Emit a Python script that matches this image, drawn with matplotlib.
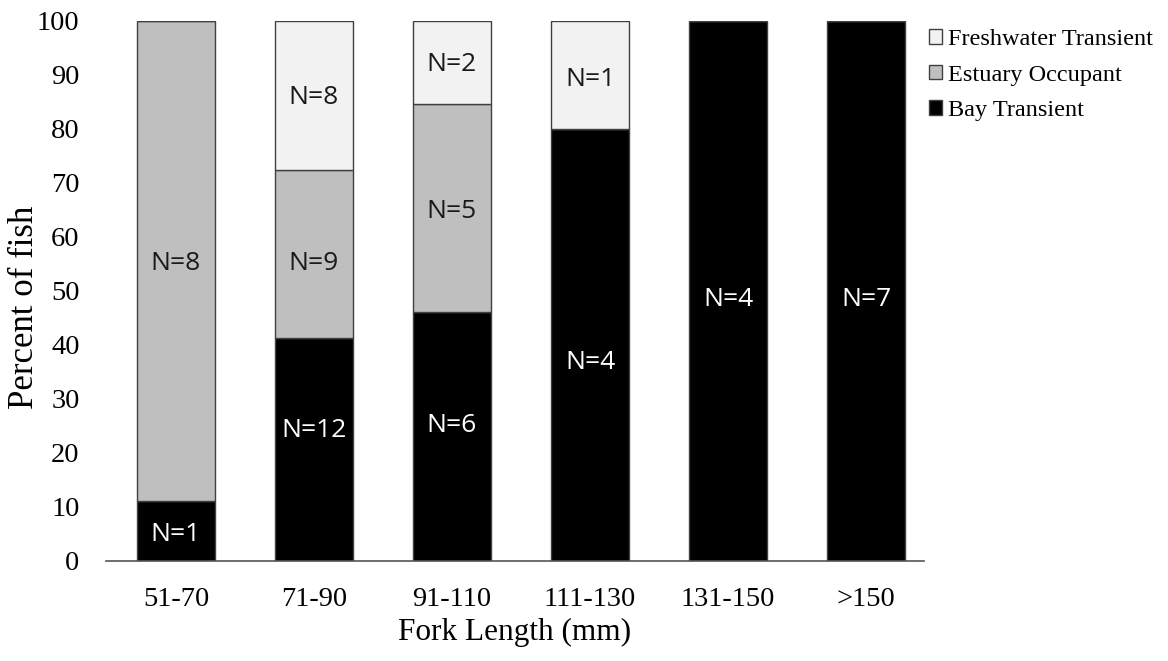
import matplotlib
matplotlib.use("Agg")
import matplotlib.pyplot as plt
import numpy as np

categories = ["51-70", "71-90", "91-110", "111-130", "131-150", ">150"]
bay_n = [1, 12, 6, 4, 4, 7]
estuary_n = [8, 9, 5, 0, 0, 0]
fresh_n = [0, 8, 2, 1, 0, 0]
series_names = ["Bay Transient", "Estuary Occupant", "Freshwater Transient"]
colors = ["#000000", "#bfbfbf", "#f2f2f2"]
text_colors = ["white", "#1a1a1a", "#1a1a1a"]

# label heights (percent) as placed in the original chart
bay_label_pos = [5.4, 24.7, 25.6, 37.4, 48.9, 48.9]
estuary_label_pos = [55.7, 55.7, 65.2, None, None, None]
fresh_label_pos = [None, 86.3, 92.5, 89.7, None, None]

counts = np.array([bay_n, estuary_n, fresh_n], dtype=float)
totals = counts.sum(axis=0)
pct = counts / totals * 100
label_pos = [bay_label_pos, estuary_label_pos, fresh_label_pos]

fig = plt.figure(figsize=(11.68, 6.61), dpi=100)
ax = fig.add_axes([106/1168, 100/661, (924-106)/1168, (640-100)/661])

x = np.arange(len(categories))
bottom = np.zeros(len(categories))
handles = []
for i in range(3):
    bars = ax.bar(x, pct[i], width=0.57, bottom=bottom, color=colors[i],
                  edgecolor="#404040", linewidth=1.0, label=series_names[i])
    handles.append(bars)
    for j in range(len(categories)):
        if counts[i, j] > 0:
            ypos = label_pos[i][j]
            if ypos is None:
                ypos = bottom[j] + pct[i, j] / 2
            ax.text(x[j], ypos, f"N={int(counts[i, j])}",
                    ha="center", va="center_baseline", color=text_colors[i],
                    fontsize=19, family="Open Sans")
    bottom += pct[i]

ax.set_xlim(-0.507, 5.42)
ax.set_ylim(0, 100)
ax.set_yticks(range(0, 101, 10))
ax.set_xticks(x)
ax.set_xticklabels(categories)
for s in ["top", "right", "left"]:
    ax.spines[s].set_visible(False)
ax.spines["bottom"].set_color("#555555")
ax.spines["bottom"].set_linewidth(1.2)
ax.tick_params(axis="both", length=0, labelsize=20.5)
ax.tick_params(axis="y", pad=19)
ax.tick_params(axis="x", pad=19)
for lab in ax.get_xticklabels() + ax.get_yticklabels():
    lab.set_family("Liberation Serif")

fig.text(25/1168, 1 - 307/661, "Percent of fish", family="Liberation Serif",
         fontsize=25, rotation=90, ha="center", va="center")
ax.set_xlabel("Fork Length (mm)", family="Liberation Serif", fontsize=22.5, labelpad=4)

leg = fig.legend(handles[::-1], series_names[::-1], loc="upper left",
                 bbox_to_anchor=(929/1168, 1 - 29/661), frameon=False,
                 borderpad=0, borderaxespad=0,
                 prop={"family": "Liberation Serif", "size": 17.5},
                 handlelength=0.55, handleheight=0.55, handletextpad=0.25,
                 labelspacing=0.6)

fig.savefig("out.png", dpi=100)
